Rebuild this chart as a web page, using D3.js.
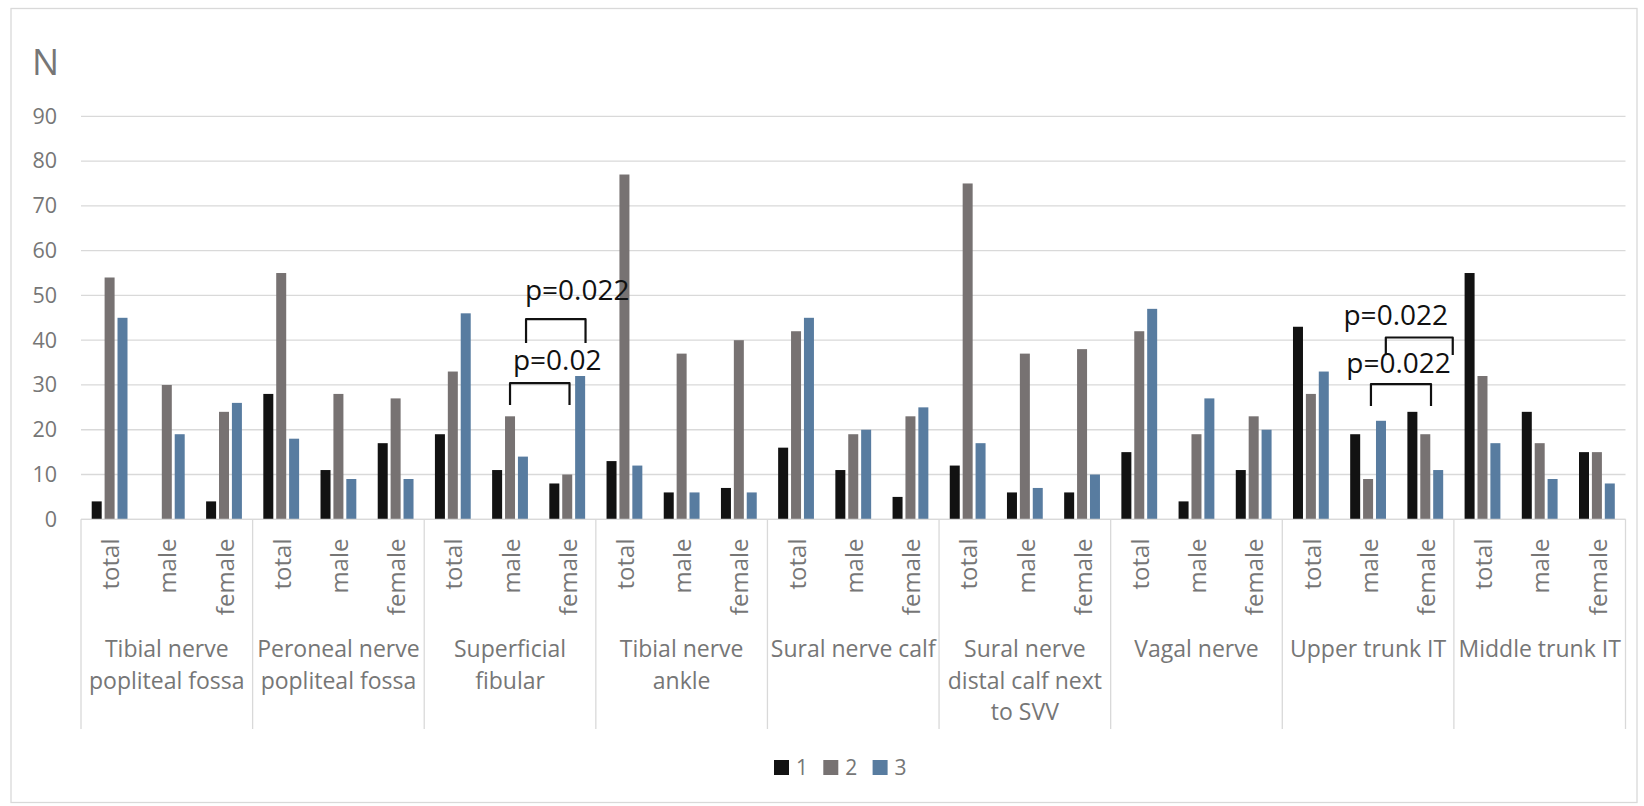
<!DOCTYPE html>
<html>
<head>
<meta charset="utf-8">
<script src="https://cdn.jsdelivr.net/npm/d3@7"></script>
<style>
  html, body { margin: 0; padding: 0; background: #fff; }
  svg { display: block; font-family: "Open Sans", "Noto Sans", sans-serif; }
</style>
</head>
<body>
<svg id="chart" width="1644" height="806"></svg>
<script>
// Nerve sites, each split into total / male / female
const groupLabels = [
  ["Tibial nerve", "popliteal fossa"],
  ["Peroneal nerve", "popliteal fossa"],
  ["Superficial", "fibular"],
  ["Tibial nerve", "ankle"],
  ["Sural nerve calf"],
  ["Sural nerve", "distal calf next", "to SVV"],
  ["Vagal nerve"],
  ["Upper trunk IT"],
  ["Middle trunk IT"]
];
const subgroups = ["total", "male", "female"];
const seriesNames = ["1", "2", "3"];

// Counts per category (site x subgroup), in order
const series1 = [4, 0, 4, 28, 11, 17, 19, 11, 8, 13, 6, 7, 16, 11, 5, 12, 6, 6, 15, 4, 11, 43, 19, 24, 55, 24, 15];
const series2 = [54, 30, 24, 55, 28, 27, 33, 23, 10, 77, 37, 40, 42, 19, 23, 75, 37, 38, 42, 19, 23, 28, 9, 19, 32, 17, 15];
const series3 = [45, 19, 26, 18, 9, 9, 46, 14, 32, 12, 6, 6, 45, 20, 25, 17, 7, 10, 47, 27, 20, 33, 22, 11, 17, 9, 8];

const yTicks = [0, 10, 20, 30, 40, 50, 60, 70, 80, 90];

// Significance brackets: x in category units, y in count units
const brackets = [
  { x0: 7.78, x1: 8.82, yTop: 44.7, yEnd: 39.4, label: "p=0.022", lx: 7.76, ly: 48.9 },
  { x0: 7.50, x1: 8.54, yTop: 30.4, yEnd: 25.5, label: "p=0.02",  lx: 7.55, ly: 33.3 },
  { x0: 22.81, x1: 23.98, yTop: 40.6, yEnd: 36.7, label: "p=0.022", lx: 22.07, ly: 43.4 },
  { x0: 22.55, x1: 23.60, yTop: 30.2, yEnd: 25.3, label: "p=0.022", lx: 22.12, ly: 32.7 }
];

const colors = ["#121212", "#777272", "#587ca0"];
const gridColor = "#d9d9d9";
const textColor = "#767676";

const svg = d3.select("#chart");

// chart frame
svg.append("rect")
  .attr("x", 11).attr("y", 8.5)
  .attr("width", 1626).attr("height", 794)
  .attr("fill", "#fff").attr("stroke", gridColor).attr("stroke-width", 1.3);

const categories = d3.range(groupLabels.length * subgroups.length);
const plotLeft = 81, plotRight = 1625.5;

const x = d3.scaleBand().domain(categories).range([plotLeft, plotRight]).padding(0);
const xSeries = d3.scaleBand().domain(d3.range(seriesNames.length))
  .range([-17.9, 17.9]).paddingInner(0.225).paddingOuter(0);
const y = d3.scaleLinear().domain([0, 90]).range([519.3, 116.3]);
const xUnit = d3.scaleLinear().domain([0, categories.length]).range([plotLeft, plotRight]);

// gridlines
svg.append("g")
  .selectAll("line")
  .data(yTicks)
  .join("line")
  .attr("x1", plotLeft).attr("x2", plotRight)
  .attr("y1", d => y(d)).attr("y2", d => y(d))
  .attr("stroke", gridColor).attr("stroke-width", 1.3);

// y axis labels
const yAxis = d3.axisLeft(y).tickValues(yTicks).tickSize(0).tickPadding(0);
const yG = svg.append("g").attr("transform", "translate(57,0)").call(yAxis);
yG.select(".domain").remove();
yG.selectAll("text")
  .attr("fill", textColor)
  .style("font-family", "'Open Sans', sans-serif")
  .style("font-size", "21.5px");

svg.append("text")
  .attr("x", 32).attr("y", 75)
  .attr("fill", textColor)
  .style("font-size", "36px")
  .text("N");

// bars
const allSeries = [series1, series2, series3];
allSeries.forEach((vals, s) => {
  svg.append("g")
    .selectAll("rect")
    .data(vals)
    .join("rect")
    .attr("x", (d, i) => x(i) + x.bandwidth() / 2 + xSeries(s))
    .attr("width", xSeries.bandwidth())
    .attr("y", d => y(d))
    .attr("height", d => y(0) - y(d))
    .attr("fill", colors[s]);
});

// axis baseline and group separators
svg.append("line")
  .attr("x1", plotLeft).attr("x2", plotRight)
  .attr("y1", y(0)).attr("y2", y(0))
  .attr("stroke", gridColor).attr("stroke-width", 1.3);

const sepX = d3.range(groupLabels.length + 1).map(g => g < groupLabels.length ? x(g * subgroups.length) : plotRight);
svg.append("g")
  .selectAll("line")
  .data(sepX)
  .join("line")
  .attr("x1", d => d).attr("x2", d => d)
  .attr("y1", y(0)).attr("y2", 729)
  .attr("stroke", gridColor).attr("stroke-width", 1.3);

// rotated subgroup labels
svg.append("g")
  .selectAll("text")
  .data(categories)
  .join("text")
  .attr("transform", d => `translate(${x(d) + x.bandwidth() / 2 + 1},538.5) rotate(-90)`)
  .attr("text-anchor", "end")
  .attr("dy", "0.36em")
  .attr("fill", textColor)
  .style("font-size", "24px")
  .text(d => subgroups[d % subgroups.length]);

// group labels
const gl = svg.append("g")
  .selectAll("text")
  .data(groupLabels)
  .join("text")
  .attr("x", (d, i) => x(i * 3 + 1) + x.bandwidth() / 2)
  .attr("y", 657)
  .attr("text-anchor", "middle")
  .attr("fill", textColor)
  .style("font-size", "23px");
gl.selectAll("tspan")
  .data(d => d)
  .join("tspan")
  .attr("x", function () { return d3.select(this.parentNode).attr("x"); })
  .attr("dy", (d, i) => i === 0 ? 0 : 31.5)
  .text(d => d);

// significance brackets
const br = svg.append("g");
br.selectAll("path")
  .data(brackets)
  .join("path")
  .attr("d", b => `M${xUnit(b.x0)},${y(b.yEnd)} L${xUnit(b.x0)},${y(b.yTop)} L${xUnit(b.x1)},${y(b.yTop)} L${xUnit(b.x1)},${y(b.yEnd)}`)
  .attr("fill", "none")
  .attr("stroke", "#111")
  .attr("stroke-width", 2.2)
  .attr("stroke-linejoin", "round");
br.selectAll("text")
  .data(brackets)
  .join("text")
  .attr("x", b => xUnit(b.lx))
  .attr("y", b => y(b.ly))
  .attr("fill", "#111")
  .style("font-size", "28px")
  .text(b => b.label);

// legend
const legend = svg.append("g").attr("transform", "translate(774,760)");
const li = legend.selectAll("g")
  .data(seriesNames)
  .join("g")
  .attr("transform", (d, i) => `translate(${i * 49.3},0)`);
li.append("rect")
  .attr("width", 15).attr("height", 15)
  .attr("fill", (d, i) => colors[i]);
li.append("text")
  .attr("x", 22).attr("y", 15)
  .attr("fill", textColor)
  .style("font-size", "21px")
  .text(d => d);
</script>
</body>
</html>
